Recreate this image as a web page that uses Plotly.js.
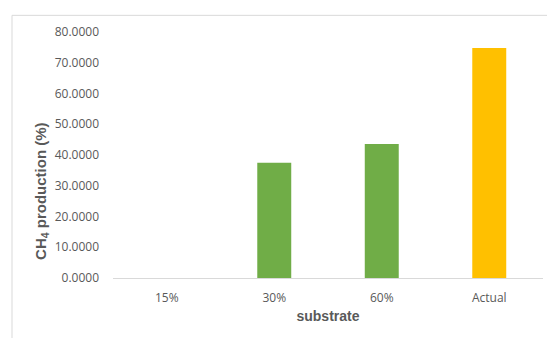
<!DOCTYPE html>
<html>
<head>
<meta charset="utf-8">
<script src="https://cdn.plot.ly/plotly-3.0.1.min.js"></script>
<style>html,body{margin:0;padding:0;background:#fff;}#chart{width:547px;height:338px;}</style>
</head>
<body>
<div id="chart"></div>
<script>
const categories = ["15%", "30%", "60%", "Actual"];
const values = [0, 37.5, 43.6, 74.8];
const barColors = ["#70AD47", "#70AD47", "#70AD47", "#FFC000"];
const yTickVals = [0, 10, 20, 30, 40, 50, 60, 70, 80];
const yTickText = yTickVals.map(v => v.toFixed(4));

const plotL = 113, plotR = 543, plotT = 31.7, plotB = 278.3;
const W = 547, H = 338;
const pw = plotR - plotL, ph = plotB - plotT;
const px = x => (x - plotL) / pw;
const py = y => (plotB - y) / ph;

const trace = {
  type: "bar",
  x: categories,
  y: values,
  marker: {color: barColors},
  hoverinfo: "none"
};

const layout = {
  width: W, height: H,
  margin: {l: plotL, r: W - plotR, t: plotT, b: H - plotB, pad: 0},
  paper_bgcolor: "#ffffff",
  plot_bgcolor: "#ffffff",
  showlegend: false,
  bargap: 0.684,
  font: {family: "Open Sans, sans-serif", color: "#595959", size: 12},
  xaxis: {
    type: "category",
    showgrid: false,
    zeroline: false,
    showline: true,
    linecolor: "#D9D9D9",
    linewidth: 1,
    ticks: "",
    ticklabelstandoff: 9,
    tickfont: {family: "Open Sans, sans-serif", size: 12, color: "#595959"},
    title: {text: "substrate", font: {family: "Liberation Sans, Arial, sans-serif", size: 14, color: "#595959", weight: "bold"}, standoff: 5}
  },
  yaxis: {
    range: [0, 80],
    tickvals: yTickVals,
    ticktext: yTickText,
    showgrid: false,
    zeroline: false,
    showline: false,
    ticks: "",
    ticklabelstandoff: 13,
    tickfont: {family: "Open Sans, sans-serif", size: 12, color: "#595959"}
  },
  annotations: [{
    text: "<b>CH<sub>4</sub> production (%)</b>",
    xref: "paper", yref: "paper",
    x: px(42), y: py(191),
    xanchor: "center", yanchor: "middle",
    textangle: -90,
    showarrow: false,
    font: {family: "Liberation Sans, Arial, sans-serif", size: 15, color: "#595959"}
  }],
  shapes: [{
    type: "rect",
    xref: "paper", yref: "paper",
    x0: px(12), x1: px(600),
    y0: py(15), y1: py(400),
    line: {color: "#D9D9D9", width: 1},
    fillcolor: "rgba(0,0,0,0)",
    layer: "below"
  }]
};

Plotly.newPlot("chart", [trace], layout, {displayModeBar: false, staticPlot: true});
</script>
</body>
</html>
